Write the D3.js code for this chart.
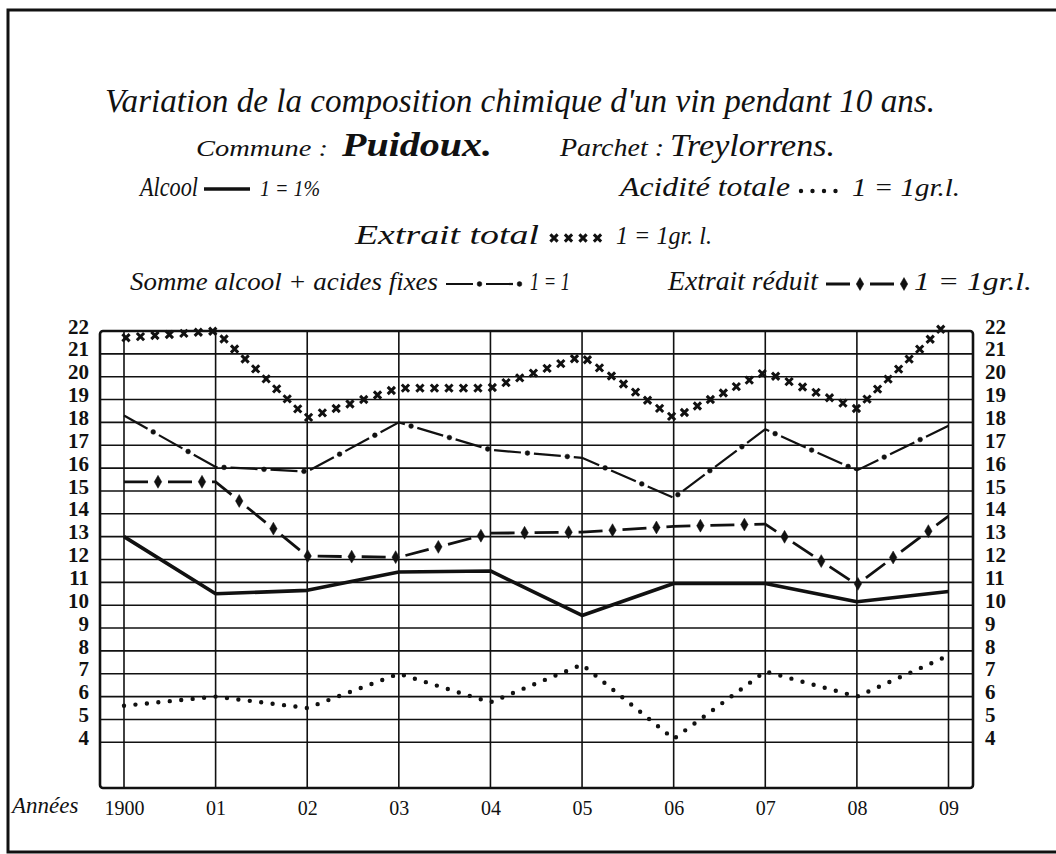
<!DOCTYPE html>
<html>
<head>
<meta charset="utf-8">
<script src="https://cdn.jsdelivr.net/npm/d3@7"></script>
<style>
  body { margin: 0; background: #fff; }
  text { fill: #111; }
</style>
</head>
<body>
<div id="chart"></div>
<script>
const WIDTH = 1056, HEIGHT = 854;

// data
const years = ["1900", "01", "02", "03", "04", "05", "06", "07", "08", "09"];
const alcool = [13.0, 10.5, 10.65, 11.45, 11.5, 9.55, 10.95, 10.95, 10.15, 10.6];
const acidite = [5.6, 6.0, 5.5, 7.0, 5.75, 7.4, 4.15, 7.1, 6.0, 7.8];
const extraitTotal = [21.7, 22.0, 18.2, 19.5, 19.5, 20.9, 18.2, 20.2, 18.6, 22.4];
const sommeAlcoolAcides = [18.3, 16.05, 15.85, 18.0, 16.8, 16.45, 14.7, 17.7, 15.9, 17.85];
const extraitReduit = [15.4, 15.4, 12.15, 12.1, 13.15, 13.2, 13.45, 13.55, 10.9, 13.9];
const yTicks = [4, 5, 6, 7, 8, 9, 10, 11, 12, 13, 14, 15, 16, 17, 18, 19, 20, 21, 22];

const frame = {left: 100, right: 973, top: 331, bottom: 788};
const pad = 24;

let svg = d3.select("#chart")
    .append("svg")
    .attr("width", WIDTH)
    .attr("height", HEIGHT);

let x = d3.scalePoint()
    .domain(years)
    .range([frame.left + pad, frame.right - pad - 0.5]);

let y = d3.scaleLinear()
    .domain([2, 22])
    .range([frame.bottom, frame.top]);

// outer page border
svg.append("path")
    .attr("d", `M${WIDTH},10 L8,10 L8,852 L${WIDTH},852`)
    .attr("fill", "none")
    .attr("stroke", "#111")
    .attr("stroke-width", 3);

// grid
let grid = svg.append("g");
grid.selectAll("line.h")
    .data(yTicks.filter(d => d < 22))
    .enter().append("line")
    .attr("x1", frame.left).attr("x2", frame.right)
    .attr("y1", d => y(d)).attr("y2", d => y(d))
    .attr("stroke", "#111")
    .attr("stroke-width", 1.6);
grid.selectAll("line.v")
    .data(years)
    .enter().append("line")
    .attr("x1", d => x(d)).attr("x2", d => x(d))
    .attr("y1", frame.top).attr("y2", frame.bottom)
    .attr("stroke", "#111")
    .attr("stroke-width", 1.6);
svg.append("rect")
    .attr("x", frame.left).attr("y", frame.top)
    .attr("width", frame.right - frame.left)
    .attr("height", frame.bottom - frame.top)
    .attr("rx", 3)
    .attr("fill", "none")
    .attr("stroke", "#111")
    .attr("stroke-width", 2.6);

// y axes, both sides
let axisFont = "'Liberation Serif', serif";
let yLeft = svg.append("g")
    .attr("transform", `translate(${frame.left - 11},0)`)
    .call(d3.axisLeft(y).tickValues(yTicks).tickSize(0).tickPadding(0));
let yRight = svg.append("g")
    .attr("transform", `translate(${frame.right + 12},0)`)
    .call(d3.axisRight(y).tickValues(yTicks).tickSize(0).tickPadding(0));
[yLeft, yRight].forEach(function (g) {
    g.select(".domain").remove();
    g.selectAll("text")
        .attr("dy", "0.1em")
        .attr("font-family", axisFont)
        .attr("font-weight", "bold")
        .attr("font-size", 21)
        .style("font-size", "21px")
        .style("fill", "#111");
});

// x axis
let xAxis = svg.append("g")
    .attr("transform", `translate(0,${frame.bottom + 8})`)
    .call(d3.axisBottom(x).tickSize(0).tickPadding(0));
xAxis.select(".domain").remove();
xAxis.selectAll("text")
    .attr("dy", "0.95em")
    .style("font-family", axisFont)
    .style("font-size", "20px")
    .style("fill", "#111");

svg.append("text")
    .attr("x", 12).attr("y", 813)
    .style("font-family", axisFont)
    .style("font-style", "italic")
    .style("font-size", "23px")
    .text("Années");

// line styles
let line = d3.line()
    .x((d, i) => x(years[i]))
    .y(d => y(d));

/**
 * Places small symbols along a drawn path, every `step` px from `offset`
 */
function markersAlong(pathNode, step, offset, symbol, size, filled) {
    let len = pathNode.getTotalLength();
    let pts = [];
    for (let l = offset; l <= len; l += step) {
        pts.push(pathNode.getPointAtLength(l));
    }
    svg.append("g").selectAll("path")
        .data(pts)
        .enter().append("path")
        .attr("transform", p => `translate(${p.x},${p.y})`)
        .attr("d", d3.symbol().type(symbol).size(size))
        .attr("fill", filled ? "#111" : "none")
        .attr("stroke", "#111")
        .attr("stroke-width", filled ? 0.5 : 3);
}

const styles = {
    alcool: function (d) {
        svg.append("path").attr("d", d).attr("fill", "none")
            .attr("stroke", "#111").attr("stroke-width", 3.6)
            .attr("stroke-linejoin", "round");
    },
    acidite: function (d) {
        svg.append("path").attr("d", d).attr("fill", "none")
            .attr("stroke", "#111").attr("stroke-width", 4.4)
            .attr("stroke-linecap", "round")
            .attr("stroke-dasharray", "0,11.5");
    },
    extraitTotal: function (d) {
        let p = svg.append("path").attr("d", d).attr("fill", "none")
            .attr("stroke", "none");
        markersAlong(p.node(), 14.5, 2, d3.symbolTimes, 36, false);
    },
    somme: function (d) {
        let p = svg.append("path").attr("d", d).attr("fill", "none")
            .attr("stroke", "#111").attr("stroke-width", 2.2)
            .attr("stroke-dasharray", "27,13");
        markersAlong(p.node(), 40, 33.5, d3.symbolCircle, 18, true);
    },
    reduit: function (d) {
        let p = svg.append("path").attr("d", d).attr("fill", "none")
            .attr("stroke", "#111").attr("stroke-width", 2.8)
            .attr("stroke-dasharray", "24,20");
        markersAlong(p.node(), 44, 34, d3.symbolDiamond, 48, true);
    }
};

styles.acidite(line(acidite));
styles.alcool(line(alcool));
styles.somme(line(sommeAlcoolAcides));
styles.reduit(line(extraitReduit));
styles.extraitTotal(line(extraitTotal));

// titles and legend
let titleFont = "'Liberation Serif', serif";
function txt(xp, yp, size, s, opts) {
    let t = svg.append("text")
        .attr("x", xp).attr("y", yp)
        .style("font-family", titleFont)
        .style("font-style", "italic")
        .style("font-size", size + "px")
        .text(s);
    if (opts && opts.len) t.attr("textLength", opts.len).attr("lengthAdjust", "spacingAndGlyphs");
    if (opts && opts.bold) t.style("font-weight", "bold");
    return t;
}

txt(105, 112, 34, "Variation de la composition chimique d'un vin pendant 10 ans.", {len: 830});
txt(196, 156, 24, "Commune :", {len: 132});
txt(342, 156, 34, "Puidoux.", {len: 150, bold: true});
txt(560, 156, 26, "Parchet :", {len: 104});
txt(670, 156, 32, "Treylorrens.", {len: 165});

function legendSwatch(style, x1, x2, yy) {
    style(`M${x1},${yy}L${x2},${yy}`);
}

txt(140, 196, 28, "Alcool", {len: 58});
legendSwatch(styles.alcool, 204, 250, 189);
txt(260, 196, 24, "1 = 1%", {len: 60});

txt(620, 196, 28, "Acidité totale", {len: 170});
legendSwatch(styles.acidite, 801, 842, 191);
txt(852, 196, 26, "1 = 1gr.l.", {len: 108});

txt(355, 244, 28, "Extrait total", {len: 184});
legendSwatch(styles.extraitTotal, 552, 608, 238);
txt(616, 244, 26, "1 = 1gr. l.", {len: 96});

txt(130, 290, 26, "Somme alcool + acides fixes", {len: 308});
legendSwatch(styles.somme, 446, 522, 284);
txt(530, 290, 26, "1 = 1", {len: 40});

txt(668, 290, 28, "Extrait réduit", {len: 150});
legendSwatch(styles.reduit, 826, 906, 284);
txt(914, 290, 26, "1 = 1gr.l.", {len: 118});
</script>
</body>
</html>
